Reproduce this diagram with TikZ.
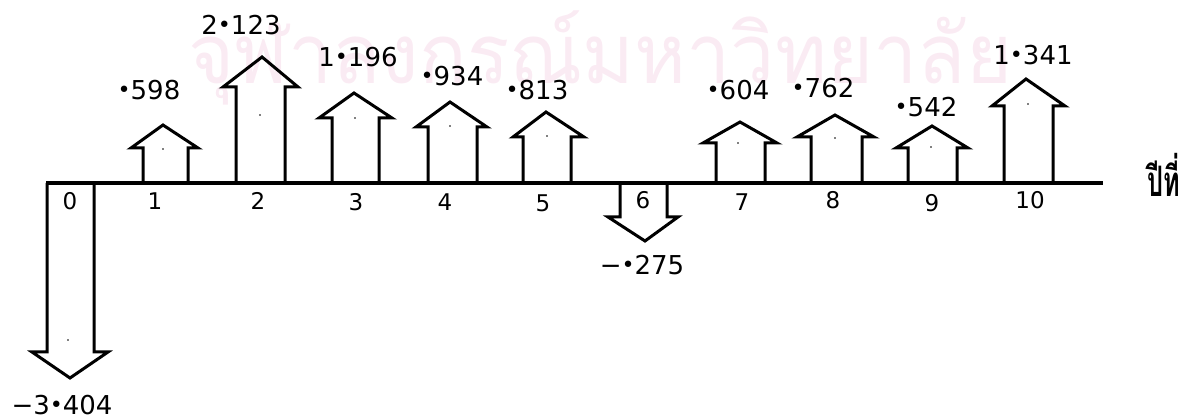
\documentclass[tikz,border=0pt]{standalone}
\usepackage{fontspec}
\setmainfont{DejaVu Sans}
\newfontfamily\thaifont[Script=Thai]{Loma}
\usepackage{graphicx}
\definecolor{wmpink}{RGB}{250,235,243}
\newcommand\dt{\raisebox{0.12ex}{\scalebox{0.85}{•}}}
\tikzset{
  ar/.style={line width=3pt, line join=miter, line cap=butt},
  val/.style={font=\fontsize{26}{26}\selectfont, inner sep=0pt},
  ax/.style={font=\fontsize{23}{23}\selectfont, inner sep=0pt},
  ctr/.style={fill=black, circle, inner sep=0pt, minimum size=2pt}
}
% up arrow: #1 left shaft x, #2 right shaft x, #3 barb y, #4 outer left, #5 outer right, #6 apex x, #7 apex y
\newcommand\uparr[7]{%
  \draw[ar] (#1,183) -- (#1,#3) -- (#4,#3) -- (#6,#7) -- (#5,#3) -- (#2,#3) -- (#2,183);
}
\begin{document}
\begin{tikzpicture}[x=1pt,y=-1pt]
\useasboundingbox (0,0) rectangle (1180,419);
% watermark
\node[anchor=base west, inner sep=0pt, text=wmpink, font=\thaifont\fontsize{83}{83}\selectfont] (wm) at (188,84) {\scalebox{0.95}[1]{จุฬาลงกรณ์มหาวิทยาลัย}};
% axis
\coordinate (axl) at (46,183);
\coordinate (axr) at (1103,183);
\draw[line width=3.2pt] (axl) -- (axr);
% arrows
\draw[ar] (47,183) -- (47,352) -- (32,352) -- (70,378) -- (108,352) -- (94,352) -- (94,183);
\uparr{143}{188}{148}{131}{198}{163}{125}
\uparr{236}{285}{87}{223}{298}{262}{57}
\uparr{332}{379}{118}{319}{392}{354}{93}
\uparr{428}{477}{127}{416}{487}{450}{102}
\uparr{523}{571}{137}{513}{584}{546}{112}
\draw[ar] (620,183) -- (620,217) -- (608,217) -- (645,241) -- (678,217) -- (667,217) -- (667,183);
\uparr{716}{765}{143}{703}{777}{740}{122}
\uparr{811}{862}{137}{797}{874}{835}{115}
\uparr{908}{957}{148}{896}{968}{932}{126}
\uparr{1004}{1053}{106}{992}{1065}{1026}{79}
% center marks
\foreach \p/\q [count=\i] in {68/340, 163/149, 260/115, 355/118, 450/126, 547/136, 738/143, 835/138, 931/147, 1028/104}
  \node[ctr, minimum size=1.8pt] (c\i) at (\p,\q) {};
% values
\node[val] (v0) at (62,405) {−3\dt404};
\node[val] (v1) at (149,90) {\dt598};
\node[val] (v2) at (241,25) {2\dt123};
\node[val] (v3) at (358,57) {1\dt196};
\node[val] (v4) at (452,76) {\dt934};
\node[val] (v5) at (537,90) {\dt813};
\node[val] (v6) at (642,265) {−\dt275};
\node[val] (v7) at (738,90) {\dt604};
\node[val] (v8) at (823,88) {\dt762};
\node[val] (v9) at (926,107) {\dt542};
\node[val] (v10) at (1033,55) {1\dt341};
% axis labels
\node[ax] (l0) at (70,201) {0};
\node[ax] (l1) at (155,201) {1};
\node[ax] (l2) at (258,201) {2};
\node[ax] (l3) at (356,202) {3};
\node[ax] (l4) at (445,202) {4};
\node[ax] (l5) at (543,203) {5};
\node[ax] (l6) at (643,200) {6};
\node[ax] (l7) at (742,202) {7};
\node[ax] (l8) at (833,200) {8};
\node[ax] (l9) at (932,203) {9};
\node[ax] (l10) at (1030,200) {10};
\node[anchor=base west, inner sep=0pt, font=\thaifont\bfseries\fontsize{42}{42}\selectfont] (yr) at (1147,197) {\scalebox{0.6}[1]{ปีที่}};
\end{tikzpicture}
\end{document}
